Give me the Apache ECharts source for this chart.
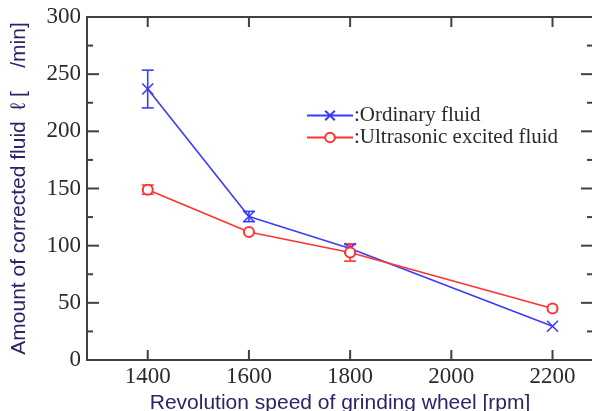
<!DOCTYPE html>
<html>
<head>
<meta charset="utf-8">
<script src="https://cdn.jsdelivr.net/npm/echarts@6/dist/echarts.min.js"></script>
<style>html,body{margin:0;padding:0;background:#fff}#c{width:592px;height:411px}</style>
</head>
<body>
<div id="c"></div>
<script>
const speeds = [1400, 1600, 1800, 2000, 2200];
const dataSpeeds = [1400, 1600, 1800, 2200];
const ordinary = [237, 125.5, 97.5, 29.5];
const ordinaryErr = [16.5, 4.5, 3.5, 0];
const ultrasonic = [149, 112, 94, 45];
const ultrasonicErr = [4, 0, 7.5, 0];
const yMajor = [0, 50, 100, 150, 200, 250, 300];
const yMinor = [25, 75, 125, 175, 225, 275];

const BLUE = '#3b3bff', RED = '#ff3333', AX = '#404040', TITLE = '#2b2466';
const crossPath = 'path://M0,0L10,10M10,0L0,10';
const X_MIN = 1280, X_MAX = 2280;

function errSeries(vals, errs, color) {
  return {
    type: 'custom', silent: true, z: 3,
    data: dataSpeeds.map((s, i) => [s, vals[i] - errs[i], vals[i] + errs[i]]),
    renderItem: function (params, api) {
      const lo = api.coord([api.value(0), api.value(1)]);
      const hi = api.coord([api.value(0), api.value(2)]);
      if (Math.abs(lo[1] - hi[1]) < 1) return null;
      const w = 6;
      const st = { stroke: color, lineWidth: 1.6 };
      return { type: 'group', children: [
        { type: 'line', shape: { x1: lo[0], y1: lo[1], x2: hi[0], y2: hi[1] }, style: st },
        { type: 'line', shape: { x1: lo[0] - w, y1: lo[1], x2: lo[0] + w, y2: lo[1] }, style: st },
        { type: 'line', shape: { x1: hi[0] - w, y1: hi[1], x2: hi[0] + w, y2: hi[1] }, style: st }
      ]};
    }
  };
}
// frame ticks (inside, on all four sides), positioned through the axis scales
function yTickSeries(vals, len) {
  return {
    type: 'custom', silent: true, z: 2, clip: false,
    data: vals.map(v => [X_MIN, v]),
    renderItem: function (params, api) {
      const cs = params.coordSys;
      const p = api.coord([api.value(0), api.value(1)]);
      const st = { stroke: AX, lineWidth: 2 };
      return { type: 'group', children: [
        { type: 'line', shape: { x1: cs.x, y1: p[1], x2: cs.x + len, y2: p[1] }, style: st },
        { type: 'line', shape: { x1: cs.x + cs.width, y1: p[1], x2: cs.x + cs.width - len, y2: p[1] }, style: st }
      ]};
    }
  };
}
function xTickSeries(vals, len) {
  return {
    type: 'custom', silent: true, z: 2, clip: false,
    data: vals.map(v => [v, 0]),
    renderItem: function (params, api) {
      const cs = params.coordSys;
      const p = api.coord([api.value(0), api.value(1)]);
      const st = { stroke: AX, lineWidth: 2 };
      return { type: 'group', children: [
        { type: 'line', shape: { x1: p[0], y1: cs.y + cs.height, x2: p[0], y2: cs.y + cs.height - len }, style: st },
        { type: 'line', shape: { x1: p[0], y1: cs.y, x2: p[0], y2: cs.y + len }, style: st }
      ]};
    }
  };
}
const plain = v => String(v);
function xAx(pos, labels) {
  return {
    type: 'value', min: X_MIN, max: X_MAX, position: pos,
    name: labels ? 'Revolution speed of grinding wheel [rpm]' : '', nameLocation: 'middle', nameGap: 24,
    nameTextStyle: { fontFamily: 'Liberation Sans', fontSize: 21, color: TITLE },
    axisLine: { show: true, onZero: false, lineStyle: { color: AX, width: 2 } },
    axisTick: { show: false },
    axisLabel: { show: labels, customValues: speeds, formatter: plain, fontFamily: 'Liberation Serif', fontSize: 23, color: '#2a2a2a', margin: 5 },
    splitLine: { show: false }
  };
}
function yAx(pos, labels) {
  return {
    type: 'value', min: 0, max: 300, interval: 50, position: pos,
    name: labels ? 'Amount of corrected fluid  ℓ [    /min]' : '', nameLocation: 'middle', nameGap: 57,
    nameTextStyle: { fontFamily: 'Liberation Sans', fontSize: 21, color: TITLE },
    axisLine: { show: true, onZero: false, lineStyle: { color: AX, width: 2 } },
    axisTick: { show: false }, minorTick: { show: false },
    axisLabel: { show: labels, formatter: plain, fontFamily: 'Liberation Serif', fontSize: 23, color: '#2a2a2a', margin: 6 },
    splitLine: { show: false }
  };
}

const chart = echarts.init(document.getElementById('c'));
chart.setOption({
  animation: false,
  backgroundColor: '#fff',
  grid: { left: 87, top: 17, right: -1, bottom: 51, containLabel: false, outerBoundsMode: 'none' },
  legend: {
    orient: 'vertical', left: 301, top: 100, itemWidth: 46, itemHeight: 12, itemGap: 1,
    formatter: n => ':' + n,
    textStyle: { fontFamily: 'Liberation Serif', fontSize: 21, color: '#2a2a2a', lineHeight: 20, padding: [0, 0, 0, -4] },
    data: ['Ordinary fluid', 'Ultrasonic excited fluid']
  },
  xAxis: [xAx('bottom', true), xAx('top', false)],
  yAxis: [yAx('left', true), yAx('right', false)],
  series: [
    yTickSeries(yMajor, 12),
    yTickSeries(yMinor, 6),
    xTickSeries(speeds, 10),
    errSeries(ordinary, ordinaryErr, BLUE),
    {
      name: 'Ordinary fluid', type: 'line', z: 4,
      data: dataSpeeds.map((s, i) => [s, ordinary[i]]),
      symbol: crossPath, symbolSize: 11,
      lineStyle: { color: BLUE, width: 1.6 },
      itemStyle: { color: BLUE, borderColor: BLUE, borderWidth: 1.6 }
    },
    errSeries(ultrasonic, ultrasonicErr, RED),
    {
      name: 'Ultrasonic excited fluid', type: 'line', z: 5,
      data: dataSpeeds.map((s, i) => [s, ultrasonic[i]]),
      symbol: 'emptyCircle', symbolSize: 10, showAllSymbol: true,
      lineStyle: { color: RED, width: 1.6 },
      itemStyle: { color: RED, borderColor: RED, borderWidth: 1.6 }
    }
  ]
});
</script>
</body>
</html>
